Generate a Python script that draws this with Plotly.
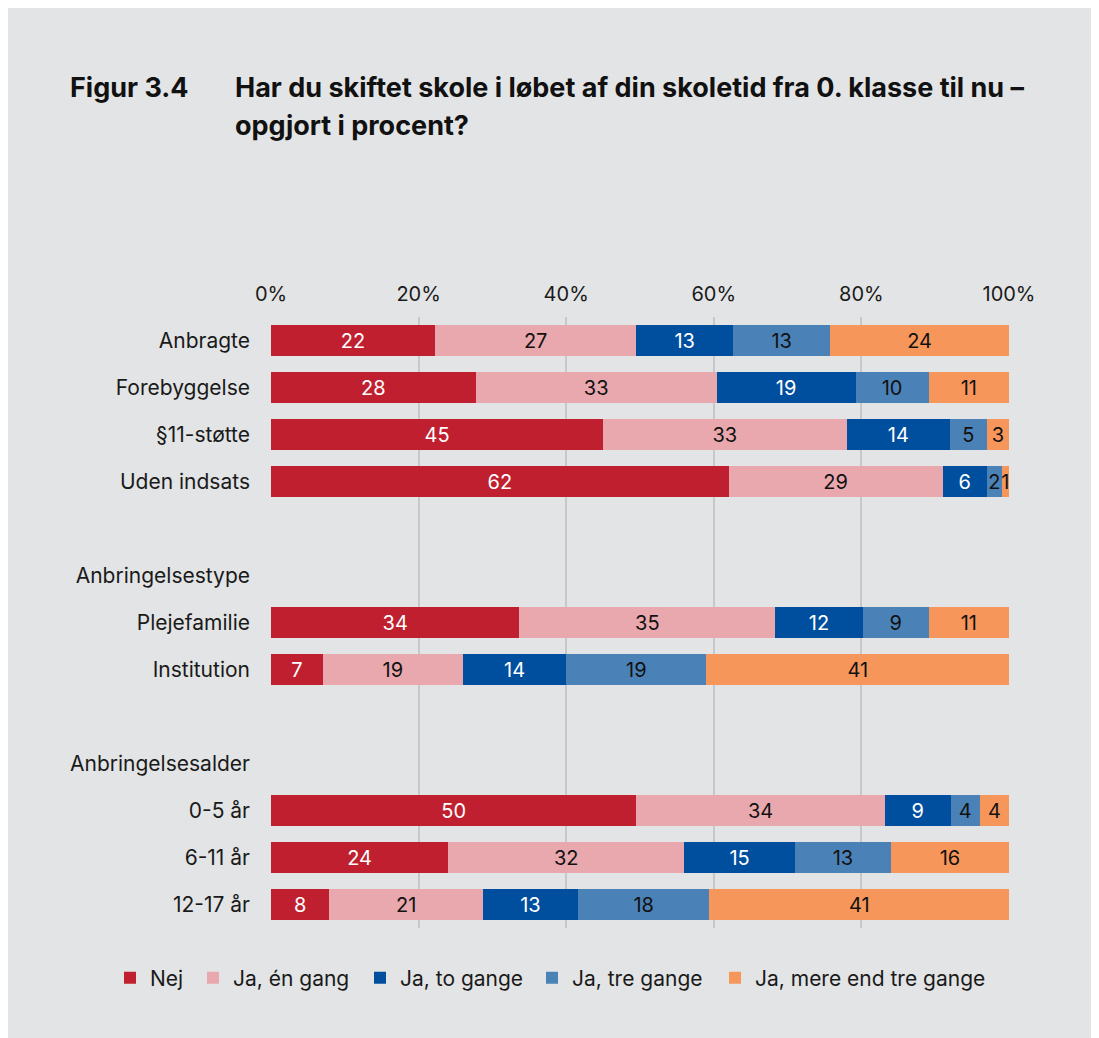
import plotly.graph_objects as go

# ---- data ----
row_labels = ["Anbragte", "Forebyggelse", "§11-støtte", "Uden indsats", "",
              "Anbringelsestype", "Plejefamilie", "Institution", "",
              "Anbringelsesalder", "0-5 år", "6-11 år", "12-17 år"]
bar_rows = ["Anbragte", "Forebyggelse", "§11-støtte", "Uden indsats",
            "Plejefamilie", "Institution", "0-5 år", "6-11 år", "12-17 år"]
series_names = ["Nej", "Ja, én gang", "Ja, to gange", "Ja, tre gange", "Ja, mere end tre gange"]
nej = [22, 28, 45, 62, 34, 7, 50, 24, 8]
en_gang = [27, 33, 33, 29, 35, 19, 34, 32, 21]
to_gange = [13, 19, 14, 6, 12, 14, 9, 15, 13]
tre_gange = [13, 10, 5, 2, 9, 19, 4, 13, 18]
mere = [24, 11, 3, 1, 11, 41, 4, 16, 41]
x_ticks = [0, 20, 40, 60, 80, 100]
x_tick_labels = ["0%", "20%", "40%", "60%", "80%", "100%"]

series_values = [nej, en_gang, to_gange, tre_gange, mere]
colors = ["#C01F2F", "#E8A8AD", "#004F9F", "#4A81B6", "#F7965A"]
text_colors = ["white", "#111111", "white", "#111111", "#111111"]
legend_text_x = [142, 225, 392, 564, 747]   # legend entry text starts (px)

row_pos = [row_labels.index(r) for r in bar_rows]
FONT = "Inter, Roboto, sans-serif"

# page body has an 8px margin; figure sized to fill the rest of the window
W, H = 1091, 1030
L, R, T, B = 263, 90, 309, 110
pw, ph = W - L - R, H - T - B

def px(x):
    return (x - L) / pw

def py(y):
    return (H - B - y) / ph

fig = go.Figure()
legend_layouts = {}
for i, (name, vals, col, tcol) in enumerate(zip(series_names, series_values, colors, text_colors)):
    lg = "legend" if i == 0 else f"legend{i + 1}"
    fig.add_trace(go.Bar(
        name=name, y=row_pos, x=vals, orientation="h",
        marker=dict(color=col, line=dict(width=0)),
        text=[str(v) for v in vals], texttemplate="%{text}",
        textposition="inside", insidetextanchor="middle",
        constraintext="none",
        textfont=dict(color=tcol, size=20, family=FONT),
        width=0.66, hoverinfo="skip", legend=lg, showlegend=True,
    ))
    legend_layouts[lg] = dict(
        orientation="h", xref="container", yref="container",
        x=(legend_text_x[i] - 40) / W, xanchor="left", y=1 - 970 / H, yanchor="middle",
        font=dict(size=21, color="#1a1a1a"), bgcolor="rgba(0,0,0,0)", visible=True,
    )

fig.update_layout(
    width=W, height=H, showlegend=True,
    barmode="stack", barnorm="percent",
    paper_bgcolor="#E3E4E5", plot_bgcolor="#E3E4E5",
    margin=dict(l=L, r=R, t=T, b=B, autoexpand=False),
    font=dict(family=FONT, size=20, color="#1a1a1a"),
    uniformtext=dict(mode="show", minsize=20),
    xaxis=dict(range=[0, 100], side="top", tickvals=x_ticks, ticktext=x_tick_labels,
               showgrid=True, gridcolor="#C8C8C8", gridwidth=2, zeroline=False,
               showline=False, ticks="", ticklabelstandoff=11,
               tickfont=dict(size=20, color="#1a1a1a"), fixedrange=True),
    yaxis=dict(range=[len(row_labels) - 0.5, -0.5], tickvals=list(range(len(row_labels))),
               ticktext=row_labels, showgrid=False, zeroline=False, ticks="",
               ticklabelstandoff=20, tickfont=dict(size=21, color="#1a1a1a"),
               fixedrange=True),
    annotations=[
        dict(text="<b>Figur 3.4</b>", xref="paper", yref="paper", x=px(60), y=py(79),
             xanchor="left", yanchor="middle", showarrow=False,
             font=dict(size=27, family=FONT, color="#111111")),
        dict(text="<b>Har du skiftet skole i løbet af din skoletid fra 0. klasse til nu –</b>",
             xref="paper", yref="paper", x=px(225), y=py(79),
             xanchor="left", yanchor="middle", showarrow=False,
             font=dict(size=27, family=FONT, color="#111111")),
        dict(text="<b>opgjort i procent?</b>",
             xref="paper", yref="paper", x=px(225), y=py(117),
             xanchor="left", yanchor="middle", showarrow=False,
             font=dict(size=27, family=FONT, color="#111111")),
    ],
    **legend_layouts,
)

fig.write_html("out.html")
